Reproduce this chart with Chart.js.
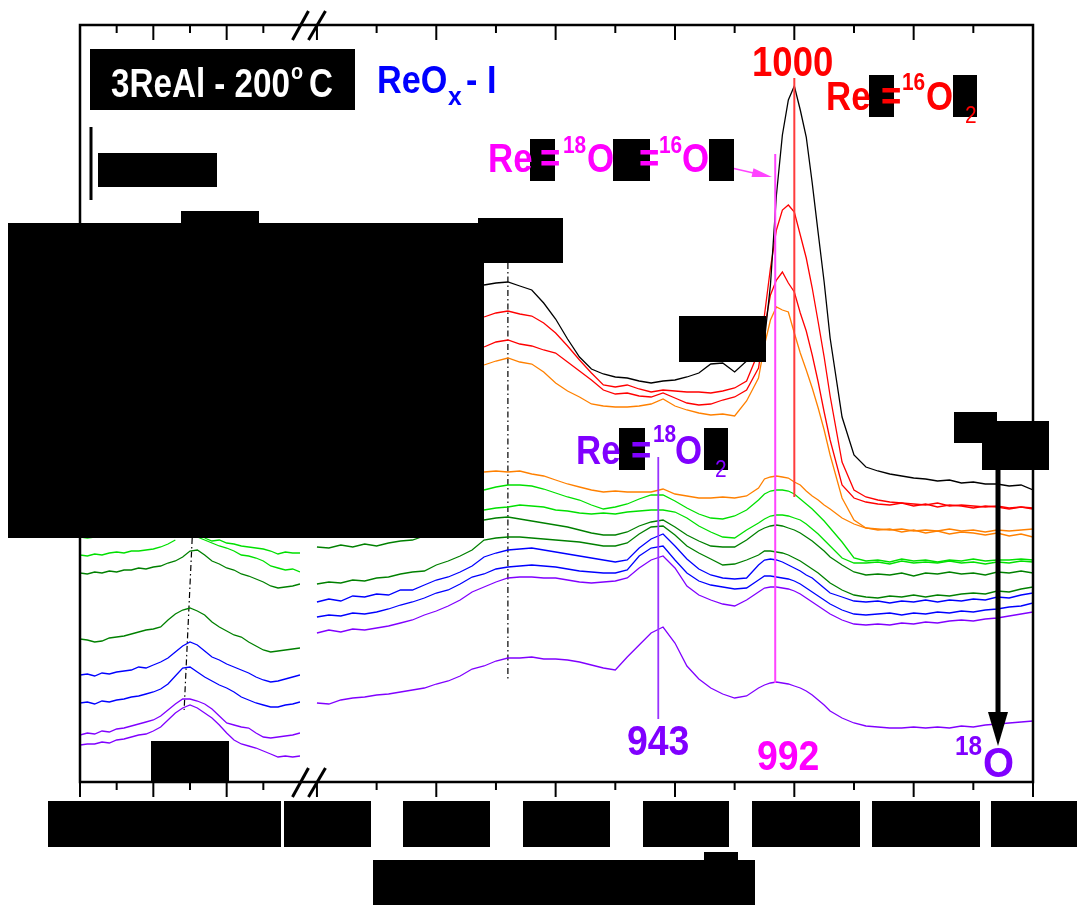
<!DOCTYPE html>
<html>
<head>
<meta charset="utf-8">
<script src="https://cdn.jsdelivr.net/npm/chart.js@4.4.0/dist/chart.umd.min.js"></script>
<style>
  html, body { margin: 0; padding: 0; background: #fff; }
  #wrap { width: 1090px; height: 905px; position: relative; }
</style>
</head>
<body>
<div id="wrap"><canvas id="ramanChart"></canvas></div>
<script>
// Raman shift grids (cm-1): low window and Re=O stretching window
const shiftLow = [250, 255, 260, 265, 270, 275, 280, 285, 290, 295, 300, 305, 310, 315, 320, 325,
  330, 335, 340, 345, 350, 355, 360, 365, 370, 375, 380, 385, 390, 395, 400];
const shiftHigh = [800, 805, 810, 815, 820, 825, 830, 835, 840, 845, 850, 855, 860, 865,
  870, 875, 880, 885, 890, 895, 900, 905, 910, 915, 920, 925, 930, 935, 940, 945, 950, 955, 960, 965, 970, 975, 980, 985,
  987.5, 990, 992.5, 995, 997.5, 1000, 1002.5, 1005, 1007.5, 1010, 1012.5, 1015,
  1020, 1025, 1030, 1035, 1040, 1045, 1050, 1055, 1060, 1065, 1070, 1075, 1080, 1085, 1090, 1095, 1100];

const lowTickMajor = [250, 300, 350];
const lowTickMinor = [275, 325, 375];
const highTickMajor = [800, 850, 900, 950, 1000, 1050, 1100];
const highTickMinor = [825, 875, 925, 975, 1025, 1075];

// marked bands (cm-1)
const bandRe16 = 1000;
const bandMixed = 992;
const bandRe18 = 943;
const bandSupport = 880;
const bandLowTop = 326.5, bandLowBottom = 321;

const N14 = [null, null, null, null, null, null, null, null, null, null, null, null, null, null];

// high window spectra, top to bottom (offset intensity, a.u.)
const hi1 = N14.concat([715, 717, 718, 714, 710, 697, 681, 661, 643, 631, 626, 623, 622, 619, 617, 619, 620, 623, 627, 636, 637, 628, 639, 648,
  660, 715, 805, 865, 900, 914, 890, 863, 817, 767, 718, 662,
  583, 545, 533, 529, 526, 524, 522, 521, 519, 520, 517, 518, 516, 516, 514, 515, 510]);
const hi2 = N14.concat([683, 687, 689, 686, 684, 677, 667, 654, 640, 627, 615, 613, 615, 611, 608, 610, 609, 608, 608, 607, 609, 612, 619, 648,
  685, 732, 770, 790, 795, 788, 765, 742, 712, 678, 643, 604,
  538, 510, 503, 500, 498, 497, 496, 495, 497, 494, 495, 494, 493, 494, 492, 493, 492]);
const hi3 = N14.concat([653, 658, 660, 656, 654, 650, 647, 638, 629, 620, 610, 606, 607, 604, 603, 607, 602, 597, 595, 596, 600, 603, 610, 632,
  672, 705, 720, 728, 717, 708, 687, 669, 645, 618, 588, 560,
  515, 502, 498, 496, 495, 497, 494, 496, 493, 495, 494, 492, 494, 493, 491, 493, 491]);
const hi4 = N14.concat([635, 639, 642, 638, 636, 628, 617, 609, 603, 596, 594, 593, 593, 594, 596, 601, 594, 590, 587, 585, 586, 584, 599, 622,
  655, 680, 693, 690, 688, 667, 647, 630, 612, 592, 570, 545,
  502, 480, 472, 470, 471, 468, 470, 467, 469, 466, 468, 467, 465, 467, 464, 466, 463]);
const hi5 = N14.concat([528, 529, 528, 529, 526, 524, 520, 516, 513, 510, 508, 509, 508, 508, 508, 511, 506, 504, 502, 502, 503, 502, 504, 512,
  521, 523, 524, 523, 522, 518, 515, 509, 504, 500, 495, 491,
  482, 476, 472, 471, 470, 471, 469, 470, 469, 471, 469, 470, 468, 470, 469, 470, 471]);
const hi6 = N14.concat([510, 513, 515, 515, 514, 511, 507, 503, 500, 495, 491, 493, 496, 501, 505, 505, 499, 492, 486, 482, 481, 484, 490, 500,
  506, 509, 510, 510, 509, 506, 501, 496, 491, 485, 479, 472,
  458, 442, 439, 440, 438, 441, 439, 440, 438, 440, 439, 441, 439, 440, 440, 441, 440]);
const hi7 = N14.concat([490, 492, 493, 495, 494, 493, 490, 489, 487, 486, 487, 486, 488, 489, 490, 490, 488, 482, 474, 468, 463, 462, 470, 477,
  481, 484, 485, 485, 484, 482, 480, 476, 471, 466, 460, 454,
  442, 437, 437, 438, 436, 439, 437, 438, 437, 439, 437, 438, 436, 438, 437, 439, 438]);
const hi8 = [453, 452, 455, 453, 456, 454, 457, 459, 460, 464, null, null, null, null,
  480, 482, 483, 481, 479, 477, 475, 473, 470, 467, 465, 465, 468, 474, 478, 480, 473, 465, 459, 454, 453, 453, 460, 469,
  472, 474, 475, 474, 472, 470, 467, 463, 459, 454, 449, 443,
  435, 428, 425, 426, 425, 427, 424, 427, 426, 428, 426, 427, 425, 428, 427, 429, 427];
const hi9 = [416, 418, 417, 420, 419, 422, 423, 426, 428, 429, 435, 439, 444, 450,
  460, 462, 463, 463, 462, 461, 460, 459, 458, 456, 454, 454, 457, 466, 473, 474, 465, 454, 447, 441, 435, 436, 440, 445,
  449, 449, 448, 447, 445, 442, 439, 435, 431, 427, 422, 417,
  410, 405, 403, 402, 404, 403, 405, 403, 405, 404, 406, 407, 406, 409, 408, 411, 413];
const hi10 = [398, 401, 399, 404, 403, 406, 405, 410, 410, 415, 420, 423, 428, 434,
  443, 447, 450, 451, 452, 450, 448, 446, 444, 442, 440, 438, 440, 452, 461, 466, 454, 441, 431, 425, 422, 421, 422, 435,
  440, 441, 440, 438, 435, 432, 429, 425, 422, 417, 412, 407,
  403, 399, 398, 399, 397, 399, 398, 400, 398, 400, 399, 401, 400, 403, 402, 405, 407];
const hi11 = [383, 385, 384, 387, 386, 388, 391, 395, 398, 402, 407, 410, 416, 423,
  426, 431, 433, 434, 435, 434, 433, 431, 429, 428, 427, 427, 430, 444, 452, 454, 440, 427, 419, 415, 413, 411, 412, 420,
  424, 424, 423, 422, 421, 419, 416, 412, 408, 404, 400, 396,
  390, 386, 385, 386, 387, 385, 387, 386, 388, 387, 389, 388, 390, 391, 393, 394, 397];
const hi12 = [367, 370, 368, 371, 370, 372, 374, 377, 380, 385, 389, 394, 400, 408,
  413, 418, 422, 423, 423, 422, 422, 420, 418, 417, 418, 419, 422, 432, 440, 444, 432, 414, 405, 400, 396, 394, 400, 408,
  412, 413, 413, 412, 411, 409, 406, 402, 398, 394, 390, 386,
  380, 376, 375, 376, 375, 377, 376, 378, 377, 379, 380, 379, 381, 382, 384, 386, 388];
const hi13 = [297, 296, 300, 302, 303, 305, 306, 308, 310, 312, 316, 319, 324, 331,
  334, 339, 342, 342, 343, 341, 341, 340, 338, 335, 332, 330, 343, 355, 367, 373, 357, 334, 321, 312, 306, 302, 304, 312,
  315, 317, 318, 317, 316, 314, 312, 309, 305, 300, 295, 289,
  282, 277, 274, 273, 272, 272, 273, 272, 273, 272, 274, 273, 275, 276, 277, 278, 279];

// low window spectra
const lo1 = [463, 462, 463, null, null, null, null, null, null, null, null, null, null, null, null, null, null,
  462, 459, 460, 457, 456, 454, 453, 452, 451, 449, 446, 448, 447, 447];
const lo2 = [445, 444, 446, 445, 447, 448, 447, 449, 449, 450, 451, 453, 456, 460, null, null,
  463, 460, 457, 454, 452, 449, 445, 444, 442, 439, 434, 432, 430, 431, 428];
const lo3 = [427, 426, 428, 427, 429, 428, 430, 430, 432, 431, 433, 434, 437, 439, 443, 449,
  450, 445, 439, 436, 432, 430, 426, 424, 421, 418, 414, 412, 413, 414, 416];
const lo4 = [361, 360, 358, 359, 362, 363, 364, 366, 368, 370, 371, 373, 380, 386, 390, 392,
  389, 385, 378, 373, 369, 365, 363, 358, 354, 350, 348, 349, 350, 351, 352];
const lo5 = [325, 326, 324, 327, 326, 328, 329, 330, 333, 332, 335, 338, 342, 348, 354, 358,
  355, 349, 343, 340, 336, 333, 330, 327, 323, 320, 318, 319, 321, 323, 325];
const lo6 = [297, 298, 296, 299, 298, 300, 301, 303, 304, 306, 308, 311, 316, 324, 332, 333,
  328, 323, 319, 315, 312, 308, 303, 300, 297, 295, 293, 293, 295, 296, 298];
const lo7 = [265, 267, 266, 269, 268, 271, 272, 274, 276, 278, 280, 284, 290, 296, 301, 301,
  299, 296, 291, 284, 277, 275, 273, 272, 267, 263, 262, 263, 264, 265, 267];
const lo8 = [255, 256, 256, 258, 257, 260, 261, 263, 265, 266, 269, 273, 280, 287, 292, 295,
  292, 287, 282, 275, 267, 260, 256, 254, 252, 249, 246, 243, 244, 243, 244];

const BLACK = '#000000', RED = '#ff0000', ORANGE = '#ff8000', LGREEN = '#00e000',
  DGREEN = '#008000', BLUE = '#0000ff', PURPLE = '#8000ff', MAGENTA = '#ff00ff';

const hiSeries = [hi1, hi2, hi3, hi4, hi5, hi6, hi7, hi8, hi9, hi10, hi11, hi12, hi13];
const hiColors = [BLACK, RED, RED, ORANGE, ORANGE, LGREEN, LGREEN, DGREEN, DGREEN, BLUE, BLUE, PURPLE, PURPLE];
const loSeries = [lo1, lo2, lo3, lo4, lo5, lo6, lo7, lo8];
const loColors = [LGREEN, LGREEN, DGREEN, DGREEN, BLUE, BLUE, PURPLE, PURPLE];

const toPts = (xs, ys) => xs.map((x, i) => ({ x: x, y: ys[i] }));
const datasets = [];
hiSeries.forEach((ys, i) => datasets.push({
  data: toPts(shiftHigh, ys), xAxisID: 'xHigh', yAxisID: 'y',
  borderColor: hiColors[i], borderWidth: 1.3, pointRadius: 0, tension: 0, fill: false
}));
loSeries.forEach((ys, i) => datasets.push({
  data: toPts(shiftLow, ys), xAxisID: 'xLow', yAxisID: 'y',
  borderColor: loColors[i], borderWidth: 1.3, pointRadius: 0, tension: 0, fill: false
}));

const FONT = 'px "Liberation Sans", Arial, sans-serif';

function txt(ctx, t, x, y, size, color, sx, regular) {
  ctx.save();
  ctx.font = (regular ? '' : 'bold ') + size + FONT;
  ctx.fillStyle = color;
  ctx.textBaseline = 'alphabetic';
  ctx.translate(x, y);
  ctx.scale(sx || 0.87, 1);
  ctx.fillText(t, 0, 0);
  ctx.restore();
}

function seg(ctx, x1, y1, x2, y2, color, w, dash) {
  ctx.save();
  ctx.strokeStyle = color;
  ctx.lineWidth = w;
  ctx.setLineDash(dash || []);
  ctx.beginPath();
  ctx.moveTo(x1, y1);
  ctx.lineTo(x2, y2);
  ctx.stroke();
  ctx.restore();
}

function arrowHead(ctx, x1, y1, x2, y2, len, half, color) {
  const a = Math.atan2(y2 - y1, x2 - x1);
  ctx.save();
  ctx.fillStyle = color;
  ctx.beginPath();
  ctx.moveTo(x2, y2);
  ctx.lineTo(x2 - len * Math.cos(a) + half * Math.sin(a), y2 - len * Math.sin(a) - half * Math.cos(a));
  ctx.lineTo(x2 - len * Math.cos(a) - half * Math.sin(a), y2 - len * Math.sin(a) + half * Math.cos(a));
  ctx.closePath();
  ctx.fill();
  ctx.restore();
}

// blacked-out areas [x, y, w, h]
const masks = [
  [98, 153, 119, 34], [181, 211, 78, 14], [8, 223, 476, 315], [478, 218, 85, 45],
  [679, 316, 87, 46], [954, 412, 43, 31], [982, 421, 67, 49], [151, 741, 78, 41],
  [48, 801, 233, 46], [284, 801, 87, 46], [403, 801, 87, 46], [523, 801, 87, 46],
  [643, 801, 86, 46], [752, 801, 108, 46], [872, 801, 108, 46], [991, 801, 86, 46],
  [373, 860, 382, 45], [704, 852, 34, 10],
  // label gaps
  [530, 139, 25, 42], [613, 139, 37, 42], [709, 139, 25, 42],
  [869, 75, 25, 42], [953, 75, 24, 42],
  [619, 428, 26, 42], [704, 428, 24, 42]
];

const decor = {
  id: 'decor',
  beforeDatasetsDraw(chart) {
    const ctx = chart.ctx, xh = chart.scales.xHigh, xl = chart.scales.xLow, y = chart.scales.y;
    seg(ctx, xh.getPixelForValue(bandSupport), y.getPixelForValue(737), xh.getPixelForValue(bandSupport), y.getPixelForValue(320), BLACK, 1.2, [6, 3, 1.5, 3]);
    seg(ctx, xl.getPixelForValue(bandLowTop), y.getPixelForValue(462), xl.getPixelForValue(bandLowBottom), y.getPixelForValue(290), BLACK, 1.2, [6, 3, 1.5, 3]);
  },
  afterDatasetsDraw(chart) {
    const ctx = chart.ctx, a = chart.chartArea;
    const xh = chart.scales.xHigh, xl = chart.scales.xLow, y = chart.scales.y;

    // band markers
    let bx = xh.getPixelForValue(bandRe16);
    seg(ctx, bx, y.getPixelForValue(922), bx, y.getPixelForValue(503), '#ff3c3c', 2);
    bx = xh.getPixelForValue(bandMixed);
    seg(ctx, bx, y.getPixelForValue(846), bx, y.getPixelForValue(317), '#ff44ff', 2);
    bx = xh.getPixelForValue(bandRe18);
    seg(ctx, bx, y.getPixelForValue(543), bx, y.getPixelForValue(281), '#9933ff', 1.8);

    // frame
    ctx.save();
    ctx.strokeStyle = BLACK;
    ctx.lineWidth = 2.5;
    ctx.strokeRect(a.left, a.top, a.right - a.left, a.bottom - a.top);
    ctx.restore();

    // ticks: out at the bottom, in at the top
    const tick = (px, len) => {
      seg(ctx, px, a.bottom, px, a.bottom + len, BLACK, 2);
      seg(ctx, px, a.top, px, a.top + len, BLACK, 2);
    };
    lowTickMajor.forEach(v => tick(xl.getPixelForValue(v), 15));
    lowTickMinor.forEach(v => tick(xl.getPixelForValue(v), 8));
    highTickMajor.forEach(v => tick(xh.getPixelForValue(v), 15));
    highTickMinor.forEach(v => tick(xh.getPixelForValue(v), 8));

    // axis break
    const bc = (xl.right + xh.getPixelForValue(800)) / 2;
    [a.top, a.bottom].forEach(yy => {
      seg(ctx, bc - 16, yy + 15, bc, yy - 14, BLACK, 3);
      seg(ctx, bc, yy + 15, bc + 17, yy - 14, BLACK, 3);
    });

    // arrows
    seg(ctx, 723, 166, 760, 174.5, '#ff44ff', 1.6);
    arrowHead(ctx, 723, 166, 772, 177, 20, 4.5, '#ff44ff');
    seg(ctx, 998, 470, 998, 715, BLACK, 5);
    arrowHead(ctx, 998, 700, 998, 746, 34, 10, BLACK);

    // scale bar
    seg(ctx, 91, 127, 91, 200, BLACK, 3);

    // masks
    ctx.save();
    ctx.fillStyle = BLACK;
    masks.forEach(m => ctx.fillRect(m[0], m[1], m[2], m[3]));
    ctx.restore();

    // sample tag
    ctx.fillStyle = BLACK;
    ctx.fillRect(90, 49, 265, 61);
    txt(ctx, '3ReAl - 200', 111, 97, 40, '#ffffff', 0.83);
    txt(ctx, 'o', 291, 79, 22, '#ffffff', 0.9);
    txt(ctx, 'C', 309, 97, 40, '#ffffff', 0.83);

    txt(ctx, 'ReO', 377, 93, 38, BLUE, 0.9);
    txt(ctx, 'x', 448, 105, 26, BLUE, 0.95);
    txt(ctx, '- I', 466, 93, 38, BLUE, 0.9);

    // mixed isotope label
    txt(ctx, 'Re', 488, 172, 40, MAGENTA);
    txt(ctx, '=', 540, 172, 40, MAGENTA);
    txt(ctx, '18', 563, 153, 24, MAGENTA);
    txt(ctx, 'O', 587, 172, 40, MAGENTA);
    txt(ctx, '=', 639, 172, 40, MAGENTA);
    txt(ctx, '16', 659, 153, 24, MAGENTA);
    txt(ctx, 'O', 682, 172, 40, MAGENTA);

    // 16O label
    txt(ctx, '1000', 752, 76, 42, RED);
    txt(ctx, 'Re', 826, 110, 40, RED);
    txt(ctx, '=', 881, 110, 40, RED);
    txt(ctx, '16', 902, 90, 24, RED);
    txt(ctx, 'O', 926, 110, 40, RED);
    txt(ctx, '2', 965, 123, 24, RED, 0.87, true);

    // 18O label
    txt(ctx, 'Re', 576, 464, 40, PURPLE);
    txt(ctx, '=', 631, 464, 40, PURPLE);
    txt(ctx, '18', 653, 442, 24, PURPLE);
    txt(ctx, 'O', 675, 464, 40, PURPLE);
    txt(ctx, '2', 715, 477, 24, PURPLE, 0.87, true);

    txt(ctx, '943', 627, 755, 43, PURPLE);
    txt(ctx, '992', 757, 770, 43, MAGENTA);
    txt(ctx, '18', 955, 755, 28, PURPLE);
    txt(ctx, 'O', 983, 777, 42, PURPLE, 0.95);
  }
};

new Chart(document.getElementById('ramanChart').getContext('2d'), {
  type: 'line',
  data: { datasets: datasets },
  options: {
    responsive: true,
    maintainAspectRatio: false,
    animation: false,
    events: [],
    layout: { padding: { left: 80, right: 57, top: 25, bottom: 123 } },
    plugins: { legend: { display: false }, tooltip: { enabled: false } },
    scales: {
      xLow: { type: 'linear', position: 'bottom', stack: 'shift', stackWeight: 220, min: 250, max: 400, display: false },
      xHigh: { type: 'linear', position: 'bottom', stack: 'shift', stackWeight: 733, min: 792.9, max: 1100, display: false },
      y: { type: 'linear', min: 218, max: 975, display: false }
    }
  },
  plugins: [decor]
});
</script>
</body>
</html>
